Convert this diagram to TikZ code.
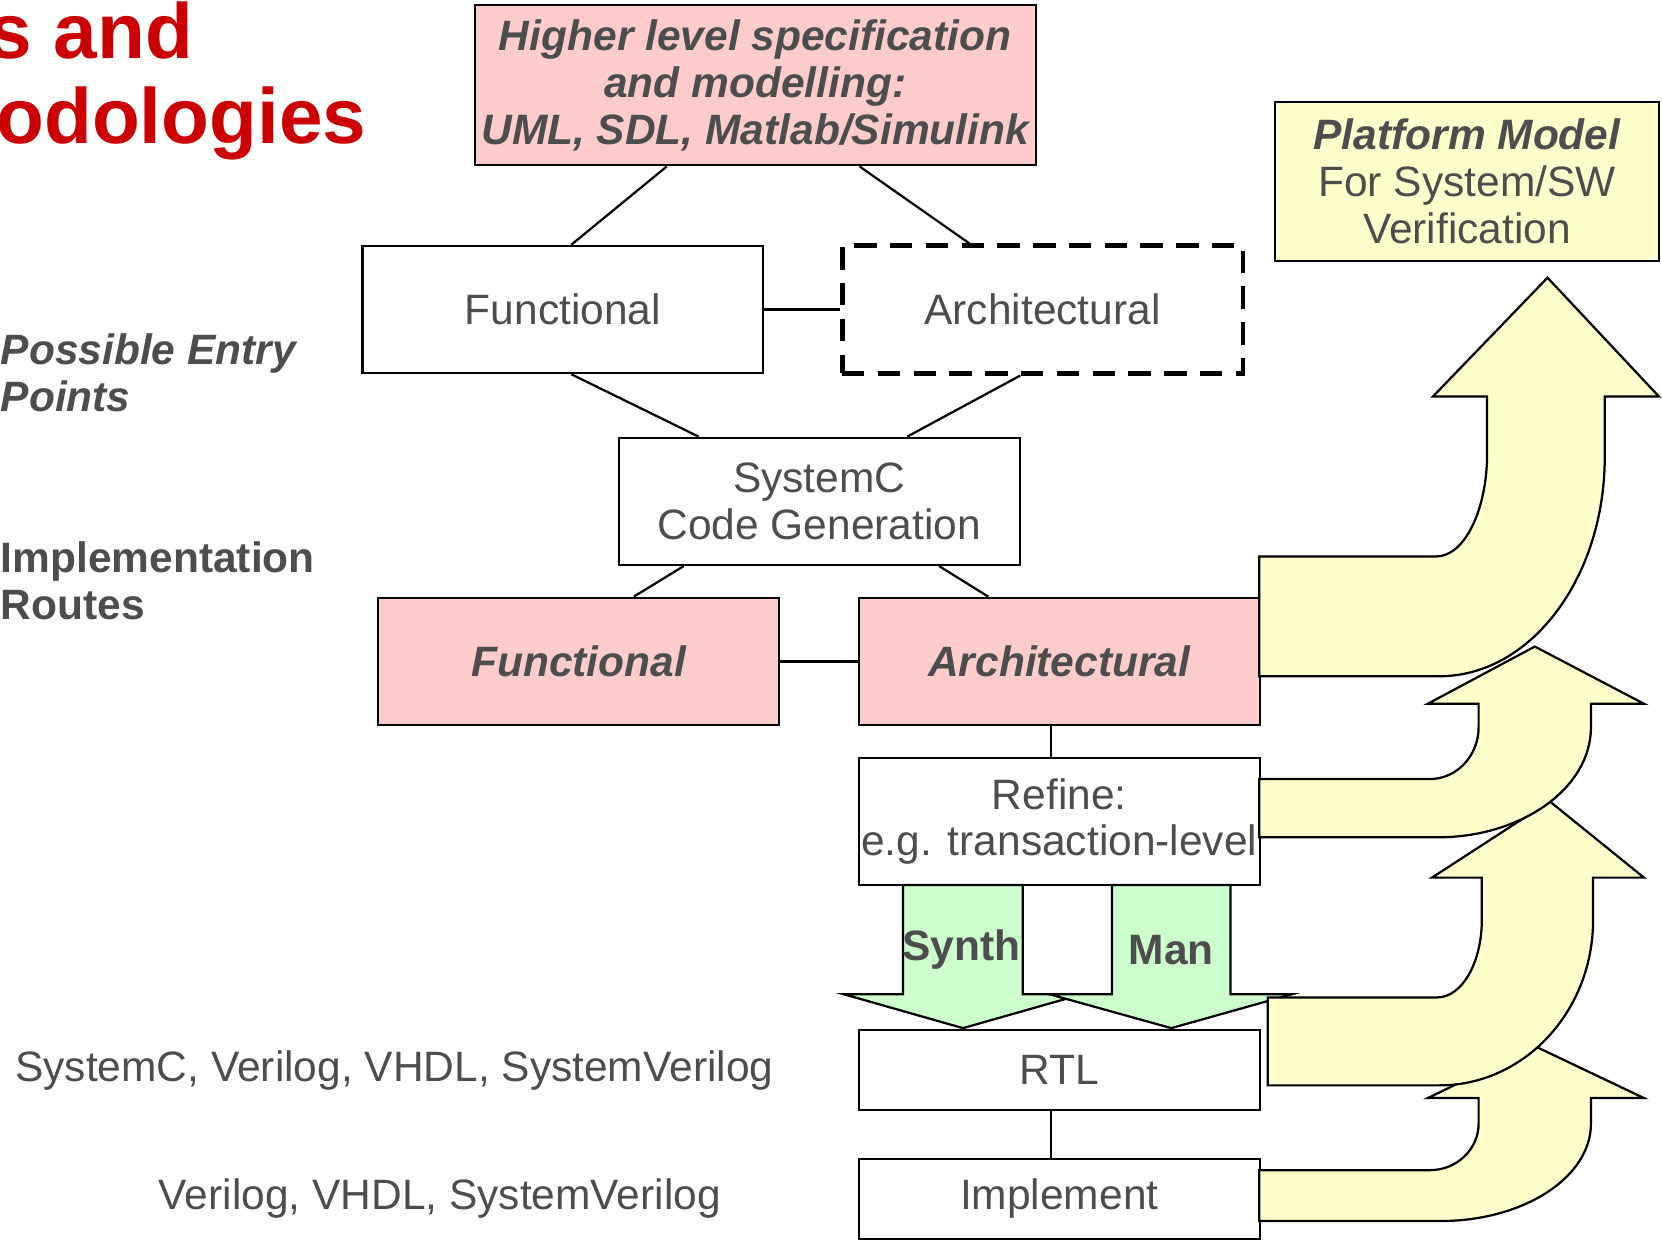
\documentclass[tikz,border=0pt]{standalone}
\usepackage{fontspec}
\setmainfont{Liberation Sans}
\usetikzlibrary{calc, positioning}
\definecolor{txtgray}{RGB}{77,77,77}
\definecolor{titlered}{RGB}{204,0,0}
\definecolor{pinkfill}{RGB}{255,204,204}
\definecolor{yellowfill}{RGB}{255,255,204}
\definecolor{greenfill}{RGB}{204,255,204}
\newcommand{\mainsize}{\fontsize{11.4}{12.5}\selectfont}

\begin{document}
\begin{tikzpicture}[x=0.01cm, y=-0.01cm,
    box/.style={draw, line width=0.6pt, minimum width=3.78cm, minimum height=1.2cm,
      inner sep=1pt, align=center, text=txtgray, font=\mainsize},
    pinkbox/.style={box, fill=pinkfill, font=\mainsize\bfseries\itshape},
    dashbox/.style={box, line width=1.3pt, dash pattern=on 6pt off 3.6pt},
    lbl/.style={text=txtgray, align=left, inner sep=0pt},
    title/.style={text=titlered, inner sep=0pt, font=\fontsize{21}{24}\selectfont\bfseries},
    link/.style={line width=0.6pt},
    garrow/.style={fill=greenfill, draw, line width=0.6pt},
    yarrow/.style={fill=yellowfill, draw, line width=0.6pt}]
  \useasboundingbox (0,0) rectangle (1568,1171);
  \clip (0,0) rectangle (1568,1171);

  % title, cut off at the left
  \node[title, anchor=base east] (ttl1) at (183,55) {s and};
  \node[title, anchor=base east] (ttl2) at (346,135) {odologies};

  % side labels
  \node[lbl, font=\mainsize\bfseries\itshape, anchor=west] (entry) at (0,352) {Possible Entry\\Points};
  \node[lbl, font=\mainsize\bfseries, anchor=west] (routes) at (0,548) {Implementation\\Routes};
  \node[lbl, font=\mainsize] (langs1) at (372,1010) {SystemC, Verilog, VHDL, SystemVerilog};
  \node[lbl, font=\mainsize] (langs2) at (415,1131) {Verilog, VHDL, SystemVerilog};

  % boxes
  \node[pinkbox, minimum width=5.29cm, minimum height=1.51cm] (spec) at (712.5,80.5)
    {Higher level specification\\and modelling:\\UML, SDL, Matlab/Simulink};
  \node[box, fill=yellowfill, minimum width=3.62cm, minimum height=1.5cm] (plat) at (1384,171)
    {{\bfseries\itshape Platform Model}\\For System/SW\\Verification};
  \node[box] (func1) at (531,292) {Functional};
  \node[dashbox, right=0.71cm of func1] (arch1) {Architectural};
  \node[box] (sysc) at (773,473) {SystemC\\Code Generation};
  \node[pinkbox] (func2) at (546,624) {Functional};
  \node[pinkbox, right=0.73cm of func2] (arch2) {Architectural};
  \node[box, inner xsep=0pt, below=0.29cm of arch2] (refine) {Refine:\\e.g. transaction-level};
  \node[box, minimum height=0.76cm, below=1.34cm of refine] (rtl) {RTL};
  \node[box, minimum height=0.75cm, below=0.44cm of rtl] (impl) {Implement};

  % connectors
  \draw[link] ($(spec.south)+(-83.5,0)$) -- ($(func1.north)+(8,0)$);
  \draw[link] ($(spec.south)+(98.5,0)$) -- ($(arch1.north)+(-69,0)$);
  \draw[link] (func1.east) -- (func1.east -| arch1.west);
  \draw[link] ($(func1.south)+(8,0)$) -- ($(sysc.north)+(-114,0)$);
  \draw[link] ($(arch1.south)+(-21,0)$) -- ($(sysc.north)+(83,0)$);
  \draw[link] ($(sysc.south)+(-128,0)$) -- ($(func2.north)+(52,0)$);
  \draw[link] ($(sysc.south)+(113,0)$) -- ($(arch2.north)+(-67,0)$);
  \draw[link] (func2.east) -- (arch2.west);
  \draw[link] ($(arch2.south)+(-8,0)$) -- ($(refine.north)+(-8,0)$);
  \draw[link] ($(rtl.south)+(-8,0)$) -- ($(impl.north)+(-8,0)$);

  % Synth / Man arrows
  \filldraw[garrow] (852,835) -- (852,938) -- (796,938) -- (908.5,970) -- (1021,938)
    -- (965,938) -- (965,835) -- cycle;
  \filldraw[garrow] (1049,835) -- (1049,938) -- (990,938) -- (1105,970) -- (1219,938)
    -- (1161,938) -- (1161,835) -- cycle;
  \node[lbl, font=\mainsize\bfseries] (synth) at (907,896) {Synth};
  \node[lbl, font=\mainsize\bfseries] (man) at (1105,896) {Man};

  % bent arrows up to the platform model
  \foreach \lx/\bt/\xh/\xi/\yi/\hy/\hl/\tx/\ty/\hr/\xo/\yo/\xb/\bb in
    {1188/1104/1349/1395/1060/1036/1347/1448/987/1551/1501/1060/1359/1152,
     1196/941/1356/1398/868/828/1351/1462/756/1551/1503/868/1358/1024,
     1188/735/1349/1395/686/664/1347/1448/610/1551/1501/686/1356/790,
     1188/525/1355/1403/428/374/1352/1460/262/1565/1514/431/1358/638}
    \filldraw[yarrow] (\lx,\bt) -- (\xh,\bt)
      .. controls +({0.552*(\xi-\xh)},0) and +(0,{0.552*(\bt-\yi)}) .. (\xi,\yi)
      -- (\xi,\hy) -- (\hl,\hy) -- (\tx,\ty) -- (\hr,\hy) -- (\xo,\hy) -- (\xo,\yo)
      .. controls +(0,{0.552*(\bb-\yo)}) and +({0.552*(\xo-\xb)},0) .. (\xb,\bb)
      -- (\lx,\bb) -- cycle;
\end{tikzpicture}
\end{document}
